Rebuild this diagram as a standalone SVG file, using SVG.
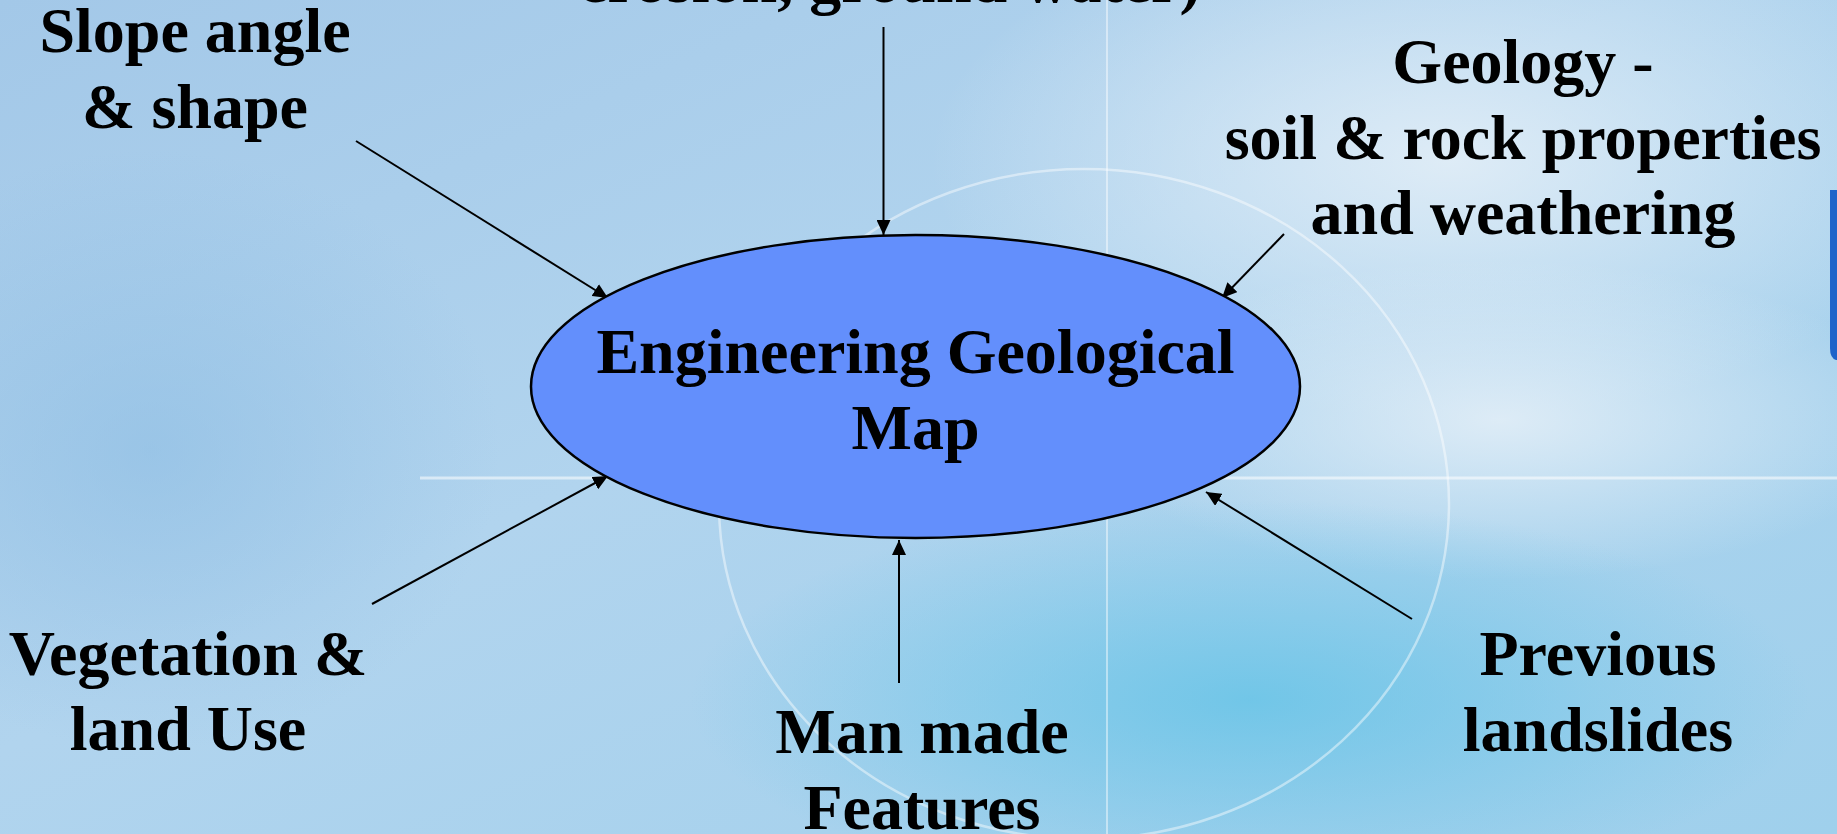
<svg xmlns="http://www.w3.org/2000/svg" width="1837" height="834" viewBox="0 0 1837 834">
  <defs>
    <linearGradient id="bg" x1="0" y1="0" x2="1" y2="1">
      <stop offset="0" stop-color="#a3c8e8"/>
      <stop offset="0.45" stop-color="#b1d4ee"/>
      <stop offset="1" stop-color="#9fd0ec"/>
    </linearGradient>
    <radialGradient id="glowW" cx="0.5" cy="0.5" r="0.5">
      <stop offset="0" stop-color="#e6f0f8" stop-opacity="0.85"/>
      <stop offset="1" stop-color="#e6f0f8" stop-opacity="0"/>
    </radialGradient>
    <radialGradient id="glowC" cx="0.5" cy="0.5" r="0.5">
      <stop offset="0" stop-color="#5fc2e6" stop-opacity="0.75"/>
      <stop offset="1" stop-color="#5fc2e6" stop-opacity="0"/>
    </radialGradient>
    <radialGradient id="glowB" cx="0.5" cy="0.5" r="0.5">
      <stop offset="0" stop-color="#8dbde3" stop-opacity="0.6"/>
      <stop offset="1" stop-color="#8dbde3" stop-opacity="0"/>
    </radialGradient>
    <marker id="arrow" viewBox="0 0 15 14" refX="15" refY="7" markerWidth="15" markerHeight="14" markerUnits="userSpaceOnUse" orient="auto">
      <path d="M0,0 L15,7 L0,14 Z" fill="#000"/>
    </marker>
  </defs>
  <style>
    .lbl { font-family: "Liberation Serif", "Times New Roman", serif; font-weight: bold; font-size: 64px; fill: #000; text-anchor: middle; }
    .conn { stroke: #000; stroke-width: 2; fill: none; marker-end: url(#arrow); }
    .deco { fill: none; stroke: #ffffff; }
  </style>

  <!-- background -->
  <g id="background">
    <rect x="0" y="0" width="1837" height="834" fill="url(#bg)"/>
    <ellipse cx="1450" cy="160" rx="520" ry="260" fill="url(#glowW)"/>
    <ellipse cx="1500" cy="420" rx="420" ry="160" fill="url(#glowW)"/>
    <ellipse cx="1250" cy="700" rx="560" ry="200" fill="url(#glowC)"/>
    <ellipse cx="150" cy="450" rx="350" ry="300" fill="url(#glowB)"/>
    <ellipse cx="1084" cy="504" rx="365" ry="335" class="deco" stroke-width="2.5" stroke-opacity="0.45"/>
    <line x1="1107" y1="0" x2="1107" y2="834" class="deco" stroke-width="2" stroke-opacity="0.45"/>
    <line x1="420" y1="478" x2="1837" y2="478" class="deco" stroke-width="3" stroke-opacity="0.55"/>
    <path d="M1830,190 H1837 V360 H1836 Q1830,358 1830,348 Z" fill="#1f63c9"/>
  </g>

  <!-- connectors -->
  <g id="connectors">
    <line class="conn" x1="883.5" y1="27" x2="883.5" y2="235"/>
    <line class="conn" x1="356" y1="141" x2="608" y2="298"/>
    <line class="conn" x1="1284" y1="234" x2="1222" y2="298"/>
    <line class="conn" x1="372" y1="604" x2="608" y2="476"/>
    <line class="conn" x1="899" y1="683" x2="899" y2="540"/>
    <line class="conn" x1="1412" y1="619" x2="1206" y2="492"/>
  </g>

  <!-- central node -->
  <g id="node-map">
    <ellipse cx="915.5" cy="386.5" rx="384.5" ry="151.5" fill="#638ffc" stroke="#000" stroke-width="2.5"/>
    <text class="lbl" x="915.5" y="373">Engineering Geological</text>
    <text class="lbl" x="915.5" y="449">Map</text>
  </g>

  <g id="node-hydrology">
    <text class="lbl" x="890" y="2">erosion, ground water)</text>
  </g>

  <g id="node-slope">
    <text class="lbl" x="195" y="52">Slope angle</text>
    <text class="lbl" x="195" y="128">&amp; shape</text>
  </g>

  <g id="node-geology">
    <text class="lbl" x="1523" y="83">Geology -</text>
    <text class="lbl" x="1523" y="159">soil &amp; rock properties</text>
    <text class="lbl" x="1523" y="234">and weathering</text>
  </g>

  <g id="node-vegetation">
    <text class="lbl" x="188" y="675">Vegetation &amp;</text>
    <text class="lbl" x="188" y="750">land Use</text>
  </g>

  <g id="node-manmade">
    <text class="lbl" x="922" y="753">Man made</text>
    <text class="lbl" x="922" y="829">Features</text>
  </g>

  <g id="node-landslides">
    <text class="lbl" x="1598" y="675">Previous</text>
    <text class="lbl" x="1598" y="751">landslides</text>
  </g>
</svg>
